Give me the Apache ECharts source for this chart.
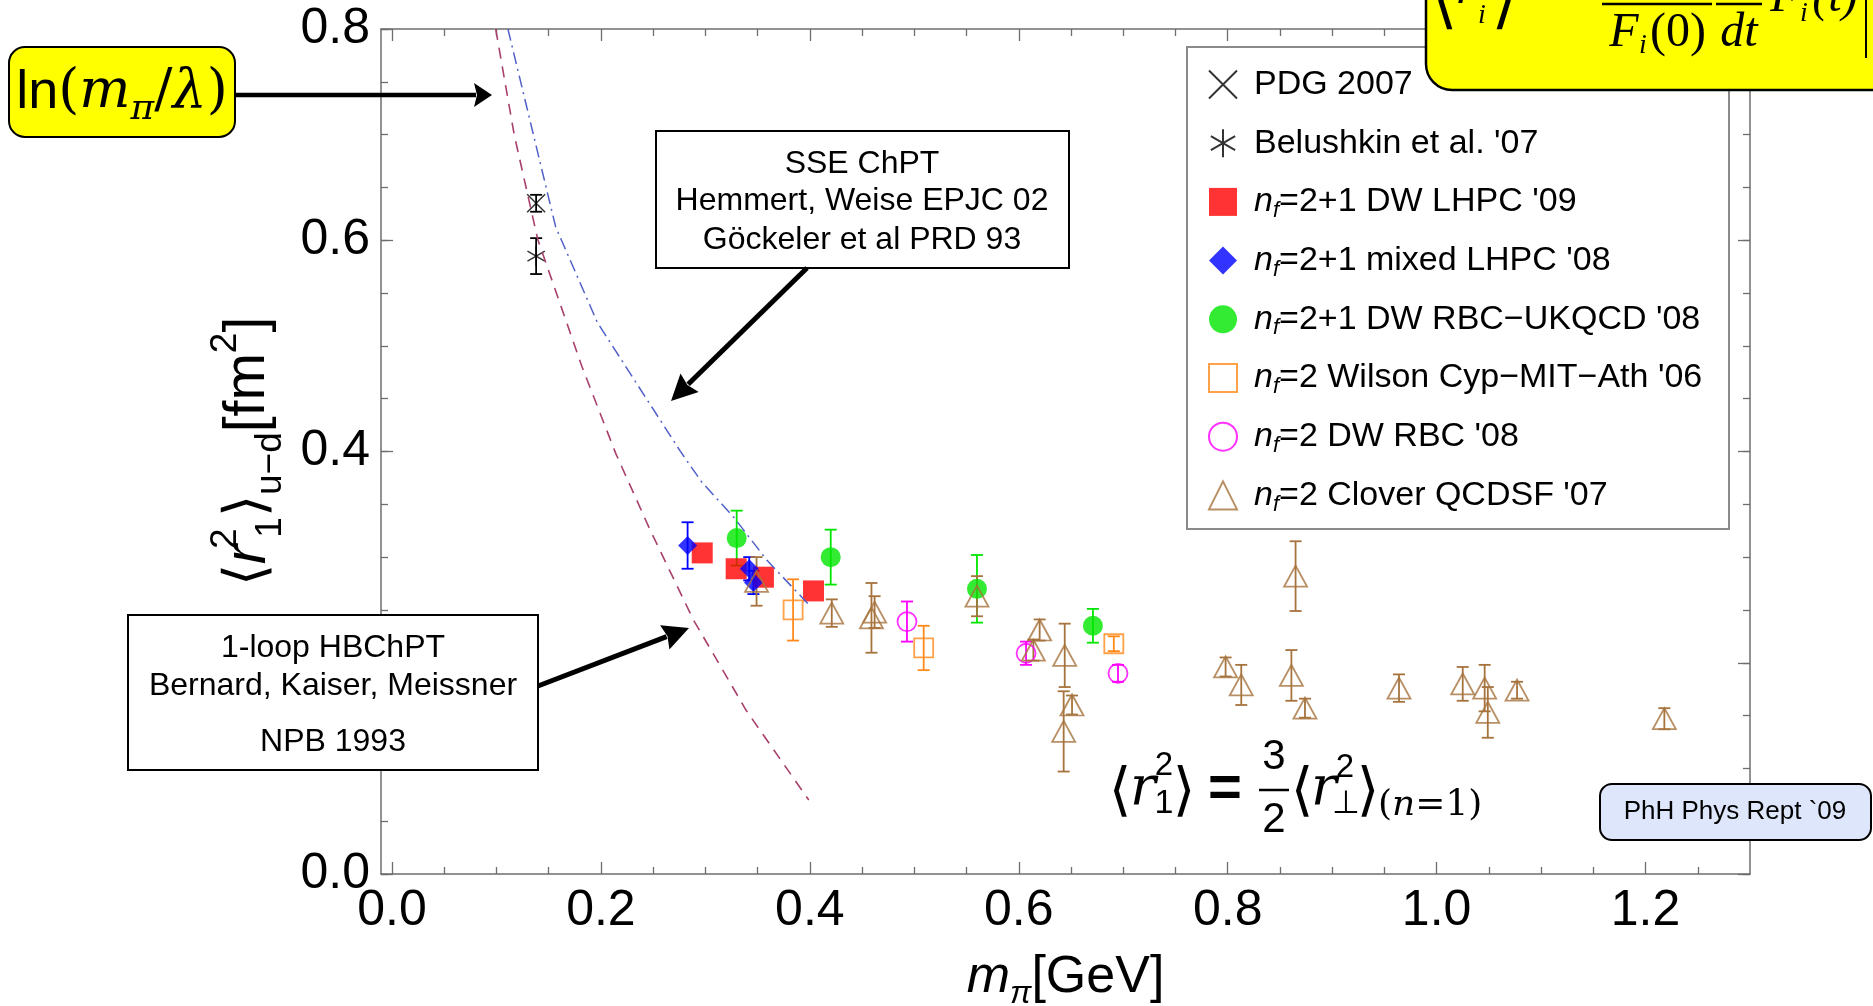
<!DOCTYPE html>
<html><head><meta charset="utf-8">
<script src="https://cdn.jsdelivr.net/npm/echarts@6/dist/echarts.min.js"></script>
<style>html,body{margin:0;padding:0;background:#fff}#c{width:1873px;height:1006px}</style>
</head><body><div id="c"></div>
<script>
// ---------------- data ----------------
const xMajorTicks = [0, 0.2, 0.4, 0.6, 0.8, 1.0, 1.2];
const xMinorTicks = [0.05,0.1,0.15,0.25,0.3,0.35,0.45,0.5,0.55,0.65,0.7,0.75,0.85,0.9,0.95,1.05,1.1,1.15,1.25];
const yMajorTicks = [0, 0.2, 0.4, 0.6, 0.8];

const pdgX = [0.138], pdgY = [0.635], pdgErr = [0.008];
const belX = [0.138], belY = [0.585], belErr = [0.017];
const lhpc09X = [0.297, 0.3295, 0.3556, 0.4035];
const lhpc09Y = [0.304, 0.289, 0.281, 0.268];
const mixedX = [0.283, 0.342, 0.346];
const mixedY = [0.311, 0.289, 0.276];
const mixedErr = [0.022, 0.011, 0.011];
const rbcX = [0.330, 0.420, 0.560, 0.671];
const rbcY = [0.318, 0.300, 0.270, 0.235];
const rbcErr = [0.026, 0.026, 0.032, 0.016];
const cypX = [0.384, 0.509, 0.691];
const cypY = [0.250, 0.214, 0.218];
const cypErr = [0.029, 0.021, 0.007];
const dwX = [0.493, 0.607, 0.695];
const dwY = [0.239, 0.209, 0.190];
const dwErr = [0.019, 0.011, 0.008];
const qcdsfX = [0.349, 0.421, 0.459, 0.462, 0.560, 0.614, 0.620, 0.644, 0.651, 0.643, 0.798, 0.813, 0.865, 0.861, 0.874, 0.964, 1.025, 1.046, 1.049, 1.077, 1.218];
const qcdsfY = [0.277, 0.247, 0.2425, 0.248, 0.263, 0.212, 0.231, 0.207, 0.160, 0.135, 0.196, 0.179, 0.282, 0.188, 0.157, 0.176, 0.180, 0.176, 0.153, 0.174, 0.147];
const qcdsfErr = [0.023, 0.013, 0.033, 0.015, 0.019, 0.010, 0.010, 0.030, 0.009, 0.038, 0.009, 0.019, 0.033, 0.024, 0.009, 0.013, 0.016, 0.022, 0.024, 0.008, 0.010];

const hbX = [0.0993, 0.117, 0.1395, 0.182, 0.2143, 0.247, 0.2886, 0.322, 0.339, 0.399];
const hbY = [0.800, 0.700, 0.601, 0.480, 0.398, 0.326, 0.2405, 0.184, 0.155, 0.070];
const sseX = [0.111, 0.1567, 0.1967, 0.2755, 0.2966, 0.327, 0.359, 0.399];
const sseY = [0.800, 0.6126, 0.522, 0.401, 0.371, 0.338, 0.297, 0.255];

const legendNames = ['PDG 2007', "Belushkin et al. '07", "n_f=2+1 DW LHPC '09", "n_f=2+1 mixed LHPC '08",
  "n_f=2+1 DW RBC\u2212UKQCD '08", "n_f=2 Wilson Cyp\u2212MIT\u2212Ath '06", "n_f=2 DW RBC '08", "n_f=2 Clover QCDSF '07"];

// ---------------- helpers ----------------
const C = {red:'#ff0000', blue:'#0000ff', green:'#00e600', orange:'#ff8a1a', magenta:'#ff00ff', brown:'#a6733d', black:'#000'};
const pairs = (xs, ys) => xs.map((x, i) => [x, ys[i]]);
const triples = (xs, ys, es) => xs.map((x, i) => [x, ys[i], es[i]]);

function errSeries(id, xs, ys, es, color) {
  return {
    type: 'custom', name: id, silent: true, animation: false, clip: false,
    data: triples(xs, ys, es), encode: {x: 0, y: 1},
    renderItem: function (params, api) {
      const x = api.value(0), y = api.value(1), e = api.value(2);
      const t = api.coord([x, y + e]), b = api.coord([x, y - e]);
      const hw = 6, st = {stroke: color, lineWidth: 1.8};
      return {type: 'group', children: [
        {type: 'line', shape: {x1: t[0], y1: t[1], x2: b[0], y2: b[1]}, style: st},
        {type: 'line', shape: {x1: t[0] - hw, y1: t[1], x2: t[0] + hw, y2: t[1]}, style: st},
        {type: 'line', shape: {x1: b[0] - hw, y1: b[1], x2: b[0] + hw, y2: b[1]}, style: st}
      ]};
    }
  };
}
function scat(name, xs, ys, symbol, size, itemStyle) {
  return {type: 'scatter', name, data: pairs(xs, ys), symbol, symbolSize: size, symbolKeepAspect: true,
    itemStyle, silent: true, animation: false, emphasis: {disabled: true}};
}
const hollow = c => ({color: 'rgba(0,0,0,0)', borderColor: c, borderWidth: 1.8});
const X_PATH = 'path://M0,0L10,10M10,0L0,10';
const AST_PATH = 'path://M5,0L5,10M0.67,2.5L9.33,7.5M0.67,7.5L9.33,2.5';

function arrow(x1, y1, x2, y2, w, hl, hw) {
  const dx = x2 - x1, dy = y2 - y1, L = Math.hypot(dx, dy), ux = dx / L, uy = dy / L;
  const bx = x2 - ux * hl, by = y2 - uy * hl, nx = -uy, ny = ux;
  return [
    {type: 'line', z: 30, shape: {x1, y1, x2: bx + ux * 2, y2: by + uy * 2}, style: {stroke: '#000', lineWidth: w}},
    {type: 'polygon', z: 30, shape: {points: [[x2, y2], [bx + nx * hw, by + ny * hw], [bx + ux * 3, by + uy * 3], [bx - nx * hw, by - ny * hw]]}, style: {fill: '#000'}}
  ];
}
function txt(text, x, y, size, opts) {
  opts = opts || {};
  return {type: 'text', z: opts.z || 30, x, y, style: Object.assign({
    text, fill: '#000', fontSize: size, fontFamily: opts.family || 'Liberation Sans',
    fontStyle: opts.italic ? 'italic' : 'normal', fontWeight: opts.bold ? 'bold' : 'normal',
    align: opts.align || 'center', textAlign: opts.align || 'center',
    verticalAlign: 'middle', textVerticalAlign: 'middle'
  }, opts.extra || {})};
}
function hline(x1, x2, y, w, z) { return {type: 'line', z: z || 30, shape: {x1, y1: y, x2, y2: y}, style: {stroke: '#000', lineWidth: w}}; }

const axisColor = '#6e6e6e';
function xAx(pos, ticks, len, showLine, showLabel) {
  return {type: 'value', position: pos, min: -0.0105, max: 1.30, gridIndex: 0,
    axisLine: {show: showLine, onZero: false, lineStyle: {color: axisColor, width: 1.5}},
    axisTick: {show: true, inside: true, length: len, customValues: ticks, lineStyle: {color: axisColor, width: 1.3}},
    axisLabel: {show: showLabel, customValues: ticks, formatter: v => v.toFixed(1), fontSize: 50, color: '#000', fontFamily: 'Liberation Sans', margin: 12},
    splitLine: {show: false}, minorTick: {show: false}};
}
function yAx(pos, interval, len, showLine, showLabel) {
  return {type: 'value', position: pos, min: 0, max: 0.8, interval, gridIndex: 0,
    axisLine: {show: showLine, onZero: false, lineStyle: {color: axisColor, width: 1.5}},
    axisTick: {show: true, inside: true, length: len, lineStyle: {color: axisColor, width: 1.3}},
    axisLabel: {show: showLabel, formatter: v => v.toFixed(1), fontSize: 50, color: '#000', fontFamily: 'Liberation Sans', margin: 11},
    splitLine: {show: false}, minorTick: {show: false}};
}

const xMain = xAx('bottom', xMajorTicks, 12, true, true);
xMain.name = '{i|m}{p|π}{n|[GeV]}';
xMain.nameLocation = 'middle';
xMain.nameGap = 72;
xMain.nameTextStyle = {rich: {
  i: {fontSize: 52, fontStyle: 'italic', fontFamily: 'Liberation Sans', color: '#000', lineHeight: 64},
  p: {fontSize: 32, fontStyle: 'italic', fontFamily: 'Liberation Sans', color: '#000', lineHeight: 36, verticalAlign: 'bottom'},
  n: {fontSize: 52, fontFamily: 'Liberation Sans', color: '#000', lineHeight: 64}
}};
const yMain = yAx('left', 0.2, 12, true, true);
yMain.name = '{b|⟨}{r|r}{s0|2}{sb|1}{b|⟩}{sb|u−d}{b|[fm}{s|2}{b|]}';
yMain.nameLocation = 'middle';
yMain.nameGap = 76;
const yn = {fontFamily: 'Liberation Sans', color: '#000'};
yMain.nameTextStyle = {rich: {
  b: Object.assign({fontSize: 57, lineHeight: 82}, yn),
  r: Object.assign({fontSize: 59, lineHeight: 82, fontStyle: 'italic'}, yn),
  s0: Object.assign({fontSize: 37, lineHeight: 44, verticalAlign: 'top', width: 2, align: 'left', padding: [0, 0, 0, 5]}, yn),
  s: Object.assign({fontSize: 37, lineHeight: 44, verticalAlign: 'top'}, yn),
  sb: Object.assign({fontSize: 37, lineHeight: 44, verticalAlign: 'bottom'}, yn)
}};

function legendFmt(name) {
  if (name.indexOf('n_f') === 0) {
    return '{sp| }{i|n}{f|f}{t|' + name.slice(3) + '}';
  }
  return '{sp| }{t|' + name + '}';
}
const lt = {fontFamily: 'Liberation Sans', color: '#000', fontSize: 34, lineHeight: 40};

const option = {
  backgroundColor: '#fff',
  animation: false,
  grid: {left: 381, top: 29, width: 1369, height: 845, containLabel: false, outerBoundsMode: 'none'},
  xAxis: [xMain, xAx('bottom', xMinorTicks, 7, false, false), xAx('top', xMajorTicks, 12, true, false), xAx('top', xMinorTicks, 7, false, false)],
  yAxis: [yMain, yAx('left', 0.05, 7, false, false), yAx('right', 0.2, 12, true, false), yAx('right', 0.05, 7, false, false)],
  legend: {
    show: true, orient: 'vertical', left: 1208, top: 64.5, padding: 0, itemGap: 18.7,
    itemWidth: 28, itemHeight: 28, selectedMode: false, z: 6,
    data: legendNames, formatter: legendFmt,
    textStyle: Object.assign({rich: {
      sp: Object.assign({width: 12}, lt),
      t: Object.assign({}, lt),
      i: Object.assign({fontStyle: 'italic'}, lt),
      f: Object.assign({}, lt, {fontSize: 22, fontStyle: 'italic', lineHeight: 24, verticalAlign: 'bottom'})
    }}, lt)
  },
  series: [
    scat(legendNames[2], lhpc09X, lhpc09Y, 'rect', 21, {color: C.red}),
    errSeries('eb-mixed', mixedX, mixedY, mixedErr, C.blue),
    scat(legendNames[3], mixedX, mixedY, 'diamond', 19, {color: C.blue}),
    errSeries('eb-rbc', rbcX, rbcY, rbcErr, C.green),
    scat(legendNames[4], rbcX, rbcY, 'circle', 20, {color: C.green}),
    errSeries('eb-cyp', cypX, cypY, cypErr, C.orange),
    scat(legendNames[5], cypX, cypY, 'rect', 19, hollow(C.orange)),
    errSeries('eb-dw', dwX, dwY, dwErr, C.magenta),
    scat(legendNames[6], dwX, dwY, 'circle', 19, hollow(C.magenta)),
    errSeries('eb-qcdsf', qcdsfX, qcdsfY, qcdsfErr, C.brown),
    scat(legendNames[7], qcdsfX, qcdsfY, 'triangle', [23, 21], hollow(C.brown)),
    errSeries('eb-pdg', pdgX, pdgY, pdgErr, C.black),
    scat(legendNames[0], pdgX, pdgY, X_PATH, 18, {color: '#000', borderColor: '#000', borderWidth: 1.5}),
    errSeries('eb-bel', belX, belY, belErr, C.black),
    scat(legendNames[1], belX, belY, AST_PATH, 20, {color: '#000', borderColor: '#000', borderWidth: 1.5}),
    {type: 'line', name: 'HBChPT', data: pairs(hbX, hbY), showSymbol: false, symbol: 'none', silent: true, z: 5,
      lineStyle: {color: '#a8406e', width: 1.6, type: [11, 8]}},
    {type: 'line', name: 'SSE', data: pairs(sseX, sseY), showSymbol: false, symbol: 'none', silent: true, z: 5,
      lineStyle: {color: '#5060c8', width: 1.5, type: [12, 5, 2, 5]}}
  ],
  graphic: {elements: [].concat(
    // legend frame
    [{type: 'rect', z: 3, shape: {x: 1187, y: 47, width: 542, height: 482}, style: {fill: '#fff', stroke: '#8a8a8a', lineWidth: 2}}],
    // ln box
    [{type: 'rect', z: 30, shape: {x: 9, y: 47, width: 226, height: 90, r: 16}, style: {fill: '#ffff00', stroke: '#000', lineWidth: 2}},
     {type: 'text', z: 31, x: 122, y: 93, style: {
        text: '{a|ln}{b|(}{m|m}{p|π}{b|/}{m|λ}{b|)}', align: 'center', textAlign: 'center', verticalAlign: 'middle', textVerticalAlign: 'middle',
        rich: {
          a: {fontSize: 54, fontFamily: 'Liberation Sans', fill: '#000', lineHeight: 70},
          b: {fontSize: 54, fontFamily: 'DejaVu Serif', fill: '#000', lineHeight: 70},
          m: {fontSize: 54, fontFamily: 'DejaVu Serif', fontStyle: 'italic', fill: '#000', lineHeight: 70},
          p: {fontSize: 36, fontFamily: 'DejaVu Serif', fontStyle: 'italic', fill: '#000', lineHeight: 44, verticalAlign: 'bottom'}
        }}}],
    arrow(236, 95, 492, 95, 4.5, 18, 12),
    // SSE box
    [{type: 'rect', z: 30, shape: {x: 656, y: 131, width: 413, height: 137}, style: {fill: '#fff', stroke: '#000', lineWidth: 2}},
     txt('SSE ChPT', 862, 164.5, 32, {z: 31}),
     txt('Hemmert, Weise EPJC 02', 862, 201.5, 32, {z: 31}),
     txt('Göckeler et al PRD 93', 862, 240.5, 32, {z: 31})],
    arrow(807, 268, 671, 401, 5, 26, 13),
    // HB box
    [{type: 'rect', z: 30, shape: {x: 128, y: 615, width: 410, height: 155}, style: {fill: '#fff', stroke: '#000', lineWidth: 2}},
     txt('1-loop HBChPT', 333, 648, 32, {z: 31}),
     txt('Bernard, Kaiser, Meissner', 333, 686, 32, {z: 31}),
     txt('NPB 1993', 333, 742, 32, {z: 31})],
    arrow(538, 686, 689, 628, 5, 26, 13),
    // formula r1^2 = 3/2 r_perp^2
    [txt('⟨', 1120, 794, 58, {family: 'DejaVu Sans'}),
     txt('r', 1143, 790, 54, {family: 'DejaVu Serif', italic: true}),
     txt('2', 1164, 766, 33),
     txt('1', 1164, 804, 34),
     txt('⟩', 1184, 794, 58, {family: 'DejaVu Sans'}),
     txt('=', 1225, 790, 58, {bold: true}),
     txt('3', 1274, 757, 42),
     hline(1259, 1289, 790, 2.5),
     txt('2', 1274, 820, 42),
     txt('⟨', 1302, 794, 58, {family: 'DejaVu Sans'}),
     txt('r', 1324, 790, 54, {family: 'DejaVu Serif', italic: true}),
     txt('2', 1345, 768, 33),
     txt('⊥', 1346, 805, 32, {family: 'DejaVu Sans'}),
     txt('⟩', 1368, 794, 58, {family: 'DejaVu Sans'}),
     {type: 'text', z: 30, x: 1378, y: 806, style: {text: '{a|(}{b|n}{a|=1)}', align: 'left', textAlign: 'left', verticalAlign: 'middle', textVerticalAlign: 'middle',
        rich: {a: {fontSize: 36, fontFamily: 'DejaVu Serif', fill: '#000'}, b: {fontSize: 36, fontFamily: 'DejaVu Serif', fontStyle: 'italic', fill: '#000'}}}}],
    // PhH box
    [{type: 'rect', z: 30, shape: {x: 1600, y: 784, width: 271, height: 56, r: 12}, style: {fill: '#dde6fa', stroke: '#000', lineWidth: 2}},
     txt('PhH Phys Rept `09', 1735, 812, 26, {z: 31})],
    // top-right yellow formula box
    [{type: 'rect', z: 40, shape: {x: 1426, y: -90, width: 520, height: 180, r: 26}, style: {fill: '#ffff00', stroke: '#000', lineWidth: 2.5}},
     txt('⟨', 1445, 4, 64, {family: 'DejaVu Sans', z: 41}),
     txt('r', 1466, -10, 50, {family: 'Liberation Serif', italic: true, z: 41}),
     txt('i', 1482, 16, 28, {family: 'Liberation Serif', italic: true, z: 41}),
     txt('2', 1482, -32, 28, {family: 'Liberation Serif', z: 41}),
     txt('⟩', 1504, 4, 64, {family: 'DejaVu Sans', z: 41}),
     txt('=', 1540, -8, 50, {family: 'Liberation Serif', z: 41}),
     txt('−', 1580, -4, 50, {family: 'Liberation Serif', z: 41}),
     hline(1602, 1712, 4, 2.5, 41),
     txt('6', 1656, -26, 48, {family: 'Liberation Serif', z: 41}),
     txt('F', 1624, 33, 48, {family: 'Liberation Serif', italic: true, z: 41}),
     txt('i', 1643, 46, 28, {family: 'Liberation Serif', italic: true, z: 41}),
     txt('(0)', 1678, 33, 48, {family: 'Liberation Serif', z: 41}),
     hline(1716, 1762, 4, 2.5, 41),
     txt('d', 1739, -26, 48, {family: 'Liberation Serif', italic: true, z: 41}),
     txt('dt', 1739, 33, 48, {family: 'Liberation Serif', italic: true, z: 41}),
     txt('F', 1785, -2, 48, {family: 'Liberation Serif', italic: true, z: 41}),
     txt('i', 1804, 14, 28, {family: 'Liberation Serif', italic: true, z: 41}),
     txt('(t)', 1835, -2, 48, {family: 'Liberation Serif', italic: true, z: 41}),
     {type: 'line', z: 41, shape: {x1: 1866, y1: -40, x2: 1866, y2: 58}, style: {stroke: '#000', lineWidth: 2}}]
  )}
};

const chart = echarts.init(document.getElementById('c'), null, {renderer: 'canvas', width: 1873, height: 1006});
chart.setOption(option);
</script>
</body></html>
